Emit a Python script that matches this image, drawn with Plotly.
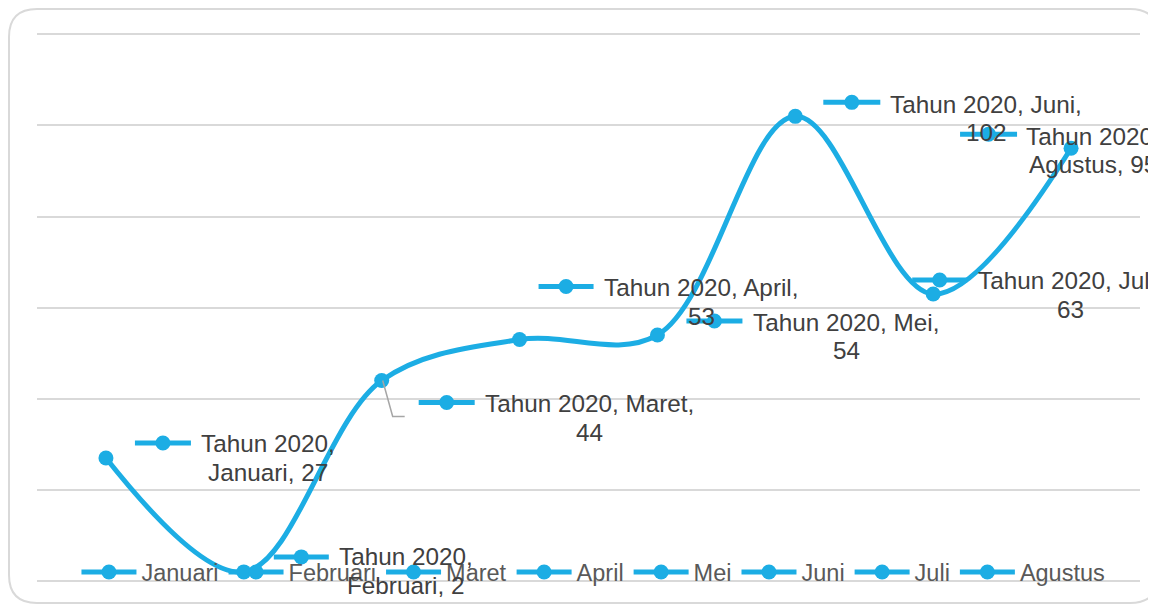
import plotly.graph_objects as go

# ---- data ----
series_name = "Tahun 2020"
categories = ["Januari", "Februari", "Maret", "April", "Mei", "Juni", "Juli", "Agustus"]
values = [27, 2, 44, 53, 54, 102, 63, 95]
# whether the category name goes on the first label line (True) or second (False)
cat_on_first_line = [False, False, True, True, True, True, True, False]

# ---- styles / label layout (pixel offsets from each point) ----
BLUE = "#1CADE4"
LABEL_COLOR = "#404040"
LEGEND_COLOR = "#595959"
GRID = "#D9D9D9"
FONT = "Liberation Sans, Arial, sans-serif"
LABEL_SIZE = 24.3
LINE_GAP = 28.5
# (key_x0, key_x1, key_dy_up, text_dx, text_dy_up)
label_layout = [
    (29, 85, 15, 162, 0),
    (30, 85, 15, 162, 1),
    (37, 93, -22, 208, -37.5),
    (19, 74, 53, 182, 37.5),
    (29, 85, 14, 189, -1.6),
    (28, 85, 14, 191, -2),
    (-21, 34, 14, 137, -1),
    (-111, -54, 14, 22, -2),
]

fig = go.Figure()

fig.add_trace(go.Scatter(
    x=categories, y=values, mode="lines+markers",
    line=dict(color=BLUE, width=5, shape="spline", smoothing=1.0),
    marker=dict(color=BLUE, size=15),
    showlegend=False, hoverinfo="skip",
))

for c in categories:
    fig.add_trace(go.Scatter(
        x=[None], y=[None], mode="lines+markers", name=c,
        line=dict(color=BLUE, width=5),
        marker=dict(color=BLUE, size=15),
        showlegend=True,
    ))

shapes = []
annotations = []
for i, (c, v) in enumerate(zip(categories, values)):
    kx0, kx1, kdy, tdx, tdy = label_layout[i]
    # legend key inside the data label
    shapes.append(dict(type="line", xref="x", yref="y", xsizemode="pixel", ysizemode="pixel",
                       xanchor=c, yanchor=v, x0=kx0, x1=kx1, y0=kdy, y1=kdy,
                       line=dict(color=BLUE, width=5), layer="above"))
    mx = (kx0 + kx1) / 2
    shapes.append(dict(type="circle", xref="x", yref="y", xsizemode="pixel", ysizemode="pixel",
                       xanchor=c, yanchor=v, x0=mx - 7.5, x1=mx + 7.5, y0=kdy - 7.5, y1=kdy + 7.5,
                       fillcolor=BLUE, line=dict(width=0), layer="above"))
    if cat_on_first_line[i]:
        lines = [f"{series_name}, {c},", f"{v}"]
    else:
        lines = [f"{series_name},", f"{c}, {v}"]
    for j, t in enumerate(lines):
        annotations.append(dict(x=c, y=v, xref="x", yref="y", text=t, showarrow=False,
                                xshift=tdx, yshift=tdy + (LINE_GAP / 2 if j == 0 else -LINE_GAP / 2),
                                xanchor="center", yanchor="middle", align="center",
                                font=dict(family=FONT, size=LABEL_SIZE, color=LABEL_COLOR)))

# leader line for Maret label
shapes.append(dict(type="path", xref="x", yref="y", xsizemode="pixel", ysizemode="pixel",
                   xanchor=categories[2], yanchor=values[2], path="M1,0 L11,-36 L23,-36",
                   line=dict(color="#A6A6A6", width=1.5), layer="above"))

# chart frame (rounded rectangle), pixel offsets from the plot's bottom-left corner
r = 28
L, R, B, T = -28, 1121, -22, 572
shapes.append(dict(type="path", xref="paper", yref="paper", xsizemode="pixel", ysizemode="pixel",
                   xanchor=0, yanchor=0,
                   path=(f"M{L+r},{T} L{R-r},{T} Q{R},{T} {R},{T-r} L{R},{B+r} Q{R},{B} {R-r},{B} "
                         f"L{L+r},{B} Q{L},{B} {L},{B+r} L{L},{T-r} Q{L},{T} {L+r},{T} Z"),
                   line=dict(color=GRID, width=2), layer="below"))

fig.update_layout(
    width=1156, height=606,
    margin=dict(l=29, r=24, t=25, b=33),
    paper_bgcolor="white", plot_bgcolor="white",
    font=dict(family=FONT),
    xaxis=dict(type="category", range=[-0.5, 7.5], showgrid=False, showticklabels=False,
               showline=False, zeroline=False, ticks=""),
    yaxis=dict(range=[0, 120.3], tick0=0, dtick=20, showgrid=True, gridcolor=GRID, gridwidth=2,
               showticklabels=False, zeroline=True, zerolinecolor=GRID, zerolinewidth=2,
               showline=False, ticks=""),
    legend=dict(orientation="h", x=0.5045, xanchor="center", y=0.016, yanchor="middle",
                bgcolor="rgba(0,0,0,0)", font=dict(family=FONT, size=23.5, color=LEGEND_COLOR),
                itemwidth=55, traceorder="normal"),
    shapes=shapes, annotations=annotations,
    showlegend=True,
)

fig.write_html("out.html")
